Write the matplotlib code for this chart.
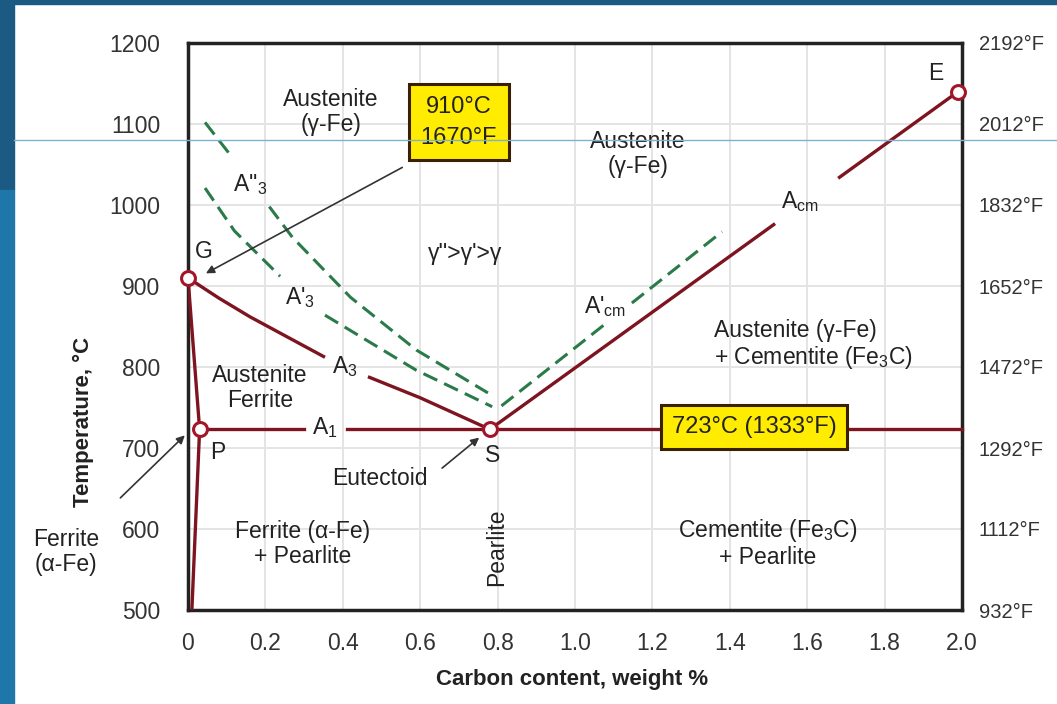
import matplotlib
matplotlib.use("Agg")
import matplotlib.pyplot as plt
from matplotlib.lines import Line2D
from matplotlib.patches import Rectangle

plt.rcParams['font.family'] = ['Liberation Sans', 'DejaVu Sans']
plt.rcParams['mathtext.default'] = 'regular'

# axis ticks
x_ticks = [0, 0.2, 0.4, 0.6, 0.8, 1.0, 1.2, 1.4, 1.6, 1.8, 2.0]
x_labels = ["0", "0.2", "0.4", "0.6", "0.8", "1.0", "1.2", "1.4", "1.6", "1.8", "2.0"]
c_ticks = [500, 600, 700, 800, 900, 1000, 1100, 1200]
f_labels = ["932°F", "1112°F", "1292°F", "1472°F", "1652°F", "1832°F", "2012°F", "2192°F"]

# key points (carbon %, temperature C)
pt_G = (0.0, 910)
pt_P = (0.03, 723)
pt_S = (0.78, 723)
pt_E = (1.99, 1140)

# red phase lines (segments split where labels sit)
gp_x = [0.0, 0.03]
gp_t = [910, 723]
p_down_x = [0.03, 0.01]
p_down_t = [723, 500]
a3_x1 = [0.0, 0.08, 0.16, 0.354]
a3_t1 = [910, 885, 862, 812]
a3_x2 = [0.465, 0.6, 0.78]
a3_t2 = [788, 762, 723]
a1_x1 = [0.03, 0.30]
a1_x2 = [0.41, 2.0]
a1_t = 723
acm_x1 = [0.78, 1.517]
acm_t1 = [723, 977]
acm_x2 = [1.68, 1.99]
acm_t2 = [1033, 1140]

# green (dashed) lines
a2_3_x1 = [0.044, 0.109]
a2_3_t1 = [1102, 1062]
a2_3_x2 = [0.21, 0.27, 0.42, 0.59, 0.775]
a2_3_t2 = [998, 960, 886, 821, 768]
ap3_x1 = [0.044, 0.12, 0.238]
ap3_t1 = [1021, 968, 912]
ap3_x2 = [0.354, 0.59, 0.786]
ap3_t2 = [864, 796, 751]
apcm_x1 = [0.81, 1.083]
apcm_t1 = [752, 855]
apcm_x2 = [1.147, 1.38]
apcm_t2 = [879, 967]

red = '#7d1420'
green = '#2a7a4a'

fig = plt.figure(figsize=(10.57, 7.04), dpi=100)
fig.patch.set_facecolor('white')
# slide background strips
fig.add_artist(Rectangle((0, 1 - 4 / 704), 1, 4 / 704, transform=fig.transFigure,
                         color='#1b5a82', zorder=0))
fig.add_artist(Rectangle((0, 1 - 190 / 704), 14 / 1057, 190 / 704, transform=fig.transFigure,
                         color='#1b5a82', zorder=0))
fig.add_artist(Rectangle((0, 0), 14 / 1057, 1 - 190 / 704, transform=fig.transFigure,
                         color='#1f76a8', zorder=0))

ax = fig.add_axes([188 / 1057, 1 - 610 / 704, 774 / 1057, 567 / 704])
ax.set_xlim(0, 2.0)
ax.set_ylim(500, 1200)
ax.set_xticks(x_ticks)
ax.set_xticklabels(x_labels)
ax.set_yticks(c_ticks)
ax.grid(True, color='#e4e4e4', lw=1.4)
ax.set_axisbelow(True)
ax.tick_params(length=0, labelsize=16.5, labelcolor='#333333')
ax.tick_params(axis='y', pad=20)
ax.tick_params(axis='x', pad=16)
for sp in ax.spines.values():
    sp.set_linewidth(2.5)
    sp.set_color('#222222')

ax2 = ax.twinx()
ax2.set_ylim(500, 1200)
ax2.set_yticks(c_ticks)
ax2.set_yticklabels(f_labels)
ax2.tick_params(length=0, labelsize=14.5, labelcolor='#333333', pad=12)
for sp in ax2.spines.values():
    sp.set_visible(False)

lw = 2.4
for xs, ts in [(gp_x, gp_t), (p_down_x, p_down_t), (a3_x1, a3_t1), (a3_x2, a3_t2),
               (acm_x1, acm_t1), (acm_x2, acm_t2)]:
    ax.plot(xs, ts, color=red, lw=lw, solid_capstyle='butt', zorder=3)
ax.plot(a1_x1, [a1_t, a1_t], color=red, lw=lw, zorder=3)
ax.plot(a1_x2, [a1_t, a1_t], color=red, lw=lw, zorder=3, clip_on=False)

for xs, ts in [(a2_3_x1, a2_3_t1), (a2_3_x2, a2_3_t2), (ap3_x1, ap3_t1), (ap3_x2, ap3_t2),
               (apcm_x1, apcm_t1), (apcm_x2, apcm_t2)]:
    ax.plot(xs, ts, color=green, lw=2.2, ls=(0, (5, 2.5)), zorder=3)

for p in [pt_G, pt_P, pt_S, pt_E]:
    ax.plot(p[0], p[1], 'o', ms=10, mfc='white', mec='#a3162a', mew=2.2, zorder=5, clip_on=False)

fs = 16.5
txt = dict(ha='center', va='center', fontsize=fs, color='#222222', zorder=6)
ax.text(0.37, 1115, "Austenite\n(γ-Fe)", linespacing=1.1, **txt)
ax.text(1.163, 1063, "Austenite\n(γ-Fe)", linespacing=1.1, **txt)
ax.text(0.716, 940, "γ''>γ'>γ", **txt)
ax.text(0.186, 774, "Austenite\nFerrite", linespacing=1.1, **txt)
ax.text(0.295, 581, "Ferrite (α-Fe)\n+ Pearlite", linespacing=1.1, **txt)
ax.text(1.499, 583, "Cementite (Fe$_3$C)\n+ Pearlite", linespacing=1.1, **txt)
ax.text(1.359, 827, "Austenite (γ-Fe)\n+ Cementite (Fe$_3$C)", linespacing=1.1,
        ha='left', va='center', fontsize=fs, color='#222222')
ax.text(0.798, 577, "Pearlite", rotation=90, **txt)
ax.text(-0.315, 572, "Ferrite\n(α-Fe)", linespacing=1.1, clip_on=False, **txt)

ax.text(0.041, 942, "G", **txt)
ax.text(0.078, 694, "P", **txt)
ax.text(0.786, 691, "S", **txt)
ax.text(1.933, 1162, "E", **txt)
ax.text(0.354, 725, "A$_1$", **txt)
ax.text(0.406, 800, "A$_3$", **txt)
ax.text(0.29, 886, "A'$_3$", **txt)
ax.text(0.16, 1025, "A''$_3$", **txt)
ax.text(1.58, 1004, "A$_{cm}$", **txt)
ax.text(1.078, 875, "A'$_{cm}$", **txt)

box = dict(boxstyle='square,pad=0.5', fc='#ffec00', ec='#3a2000', lw=2.2)
ax.text(0.70, 1102, "910°C\n1670°F", ha='center', va='center', fontsize=17,
        linespacing=1.5, bbox=box, zorder=7, color='#222222')
ax.text(1.463, 726, "723°C (1333°F)", ha='center', va='center', fontsize=17,
        bbox=dict(boxstyle='square,pad=0.45', fc='#ffec00', ec='#3a2000', lw=2.2),
        zorder=7, color='#222222')

arrow = dict(arrowstyle='-|>', color='#333333', lw=1.2, mutation_scale=12)
ax.annotate("", xy=(0.04, 914), xytext=(0.56, 1048), arrowprops=arrow, zorder=6)
ax.text(0.496, 662, "Eutectoid", **txt)
ax.annotate("", xy=(0.758, 715), xytext=(0.651, 673), arrowprops=arrow, zorder=6)
ax.annotate("", xy=(-0.003, 718), xytext=(-0.18, 636), arrowprops=arrow,
            zorder=6, annotation_clip=False)

fig.text(83 / 1057, 1 - 422 / 704, "Temperature, °C", rotation=90, ha='center', va='center',
         fontsize=16, fontweight='bold', color='#222222')
fig.text(572 / 1057, 1 - 680 / 704, "Carbon content, weight %", ha='center', va='center',
         fontsize=16, fontweight='bold', color='#222222')

# thin slide guide line
fig.add_artist(Line2D([14 / 1057, 1], [1 - 140 / 704, 1 - 140 / 704], transform=fig.transFigure,
                      color='#7fb2cf', lw=1.0, zorder=20))

fig.savefig("out.png", dpi=100)
